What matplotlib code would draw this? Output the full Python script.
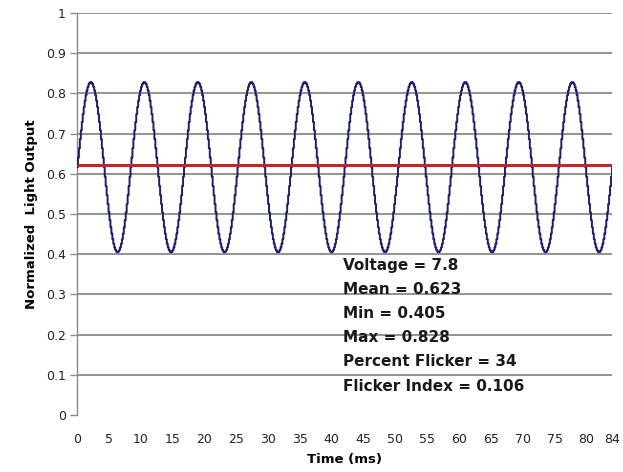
import numpy as np
import matplotlib
matplotlib.use("Agg")
import matplotlib.pyplot as plt

# Measurement summary
voltage = 7.8
mean_level = 0.623
min_level = 0.405
max_level = 0.828
percent_flicker = 34
flicker_index = 0.106

# Ripple waveform settings (ms)
ripple_period_ms = 8.4
sample_step_ms = 0.15
duration_ms = 84

x_ticks = [0, 5, 10, 15, 20, 25, 30, 35, 40, 45, 50, 55, 60, 65, 70, 75, 80, 84]
y_ticks = [0, 0.1, 0.2, 0.3, 0.4, 0.5, 0.6, 0.7, 0.8, 0.9, 1]
y_tick_labels = ["0", "0.1", "0.2", "0.3", "0.4", "0.5", "0.6", "0.7", "0.8", "0.9", "1"]

# Sampled light output between the recorded min and max
t = np.arange(0, duration_ms + sample_step_ms / 2, sample_step_ms)
mid = (max_level + min_level) / 2
amp = (max_level - min_level) / 2
light = mid + amp * np.sin(2 * np.pi * t / ripple_period_ms)

fig = plt.figure(figsize=(6.23, 4.72), dpi=100)
ax = fig.add_axes([0.1236, 0.1208, 0.8587, 0.8517])

grid_color = "#8a8a8a"
for yv in y_ticks[1:]:
    ax.axhline(yv, color=grid_color, lw=1.3, zorder=1)

ax.plot(t, light, drawstyle="steps-post", color="#1c1c7a", lw=1.4, zorder=3)
ax.plot([0, duration_ms], [mean_level, mean_level], color="#c8222c", lw=2.2,
        zorder=4, solid_capstyle="butt")

ax.set_xlim(0, duration_ms)
ax.set_ylim(0, 1)
ax.set_xticks(x_ticks)
ax.set_xticklabels([str(v) for v in x_ticks])
ax.set_yticks(y_ticks)
ax.set_yticklabels(y_tick_labels)

for side in ["top", "right", "bottom"]:
    ax.spines[side].set_visible(False)
ax.spines["left"].set_color(grid_color)
ax.spines["left"].set_linewidth(1.0)

ax.tick_params(axis="x", length=0, pad=13, labelsize=9, labelcolor="#222222")
ax.tick_params(axis="y", length=5, width=1, color=grid_color, pad=3,
               labelsize=9, labelcolor="#222222")

ax.set_xlabel("Time (ms)", fontsize=9.5, fontweight="bold", labelpad=5)
ax.set_ylabel("Normalized  Light Output", fontsize=9.5, fontweight="bold",
              labelpad=6)

stats = [
    f"Voltage = {voltage}",
    f"Mean = {mean_level}",
    f"Min = {min_level}",
    f"Max = {max_level}",
    f"Percent Flicker = {percent_flicker}",
    f"Flicker Index = {flicker_index}",
]
y0 = 0.372
for i, s in enumerate(stats):
    ax.text(41.8, y0 - i * 0.06, s, fontsize=11, fontweight="bold",
            color="#1a1a1a", va="center", ha="left", zorder=2)

fig.savefig("out.png", dpi=100, facecolor="white")
